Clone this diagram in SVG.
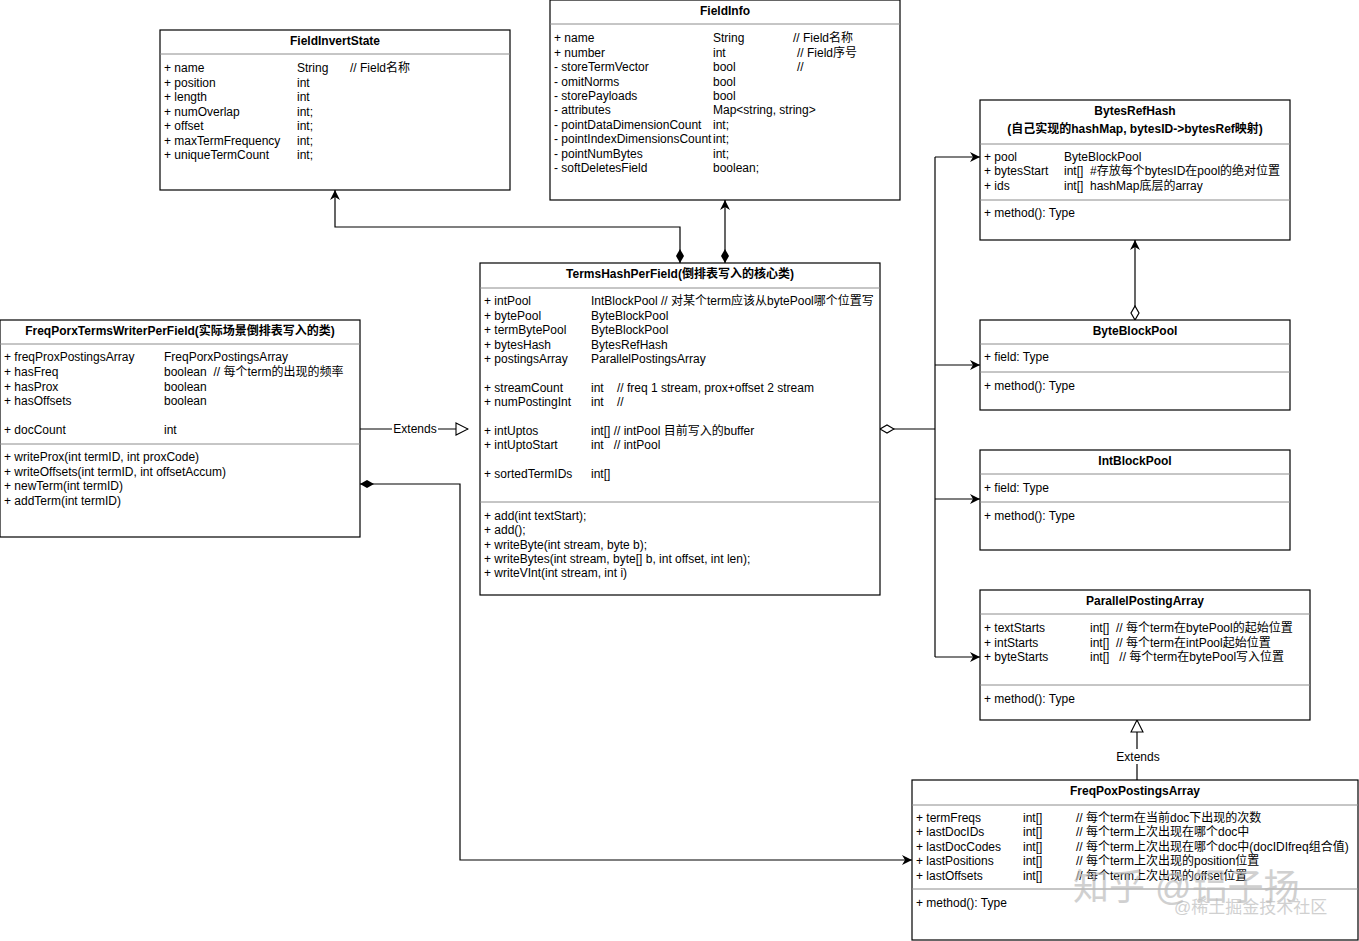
<svg xmlns="http://www.w3.org/2000/svg" width="1359" height="941" viewBox="0 0 1359 941">
<style>
text{font-family:"Liberation Sans","Noto Sans CJK SC",Arial,sans-serif;font-size:12px;fill:#000;white-space:pre}
.t{font-weight:bold;text-anchor:middle}
.box{fill:#fff;stroke:#000;stroke-width:1.2}
.sep{stroke:#8c8c8c;stroke-width:1}
.c{fill:none;stroke:#000;stroke-width:1.2}
.wm{fill:#bdbdbd;opacity:0.7}
</style>
<defs>
<marker id="arr" viewBox="0 0 10 10" refX="10" refY="5" markerWidth="10" markerHeight="10" markerUnits="userSpaceOnUse" orient="auto">
<path d="M0,0 L10,5 L0,10 L3,5 Z" fill="#000"/>
</marker>
<marker id="dia" viewBox="0 0 14 8" refX="0" refY="4" markerWidth="14" markerHeight="8" markerUnits="userSpaceOnUse" orient="auto">
<path d="M0,4 L7,0 L14,4 L7,8 Z" fill="#000"/>
</marker>
<marker id="odia" viewBox="-1 -1 16 10" refX="0" refY="4" markerWidth="16" markerHeight="10" markerUnits="userSpaceOnUse" orient="auto">
<path d="M0,4 L7,0 L14,4 L7,8 Z" fill="#fff" stroke="#000" stroke-width="1.2"/>
</marker>
<marker id="tri" viewBox="-1 -1 14 14" refX="12" refY="6" markerWidth="14" markerHeight="14" markerUnits="userSpaceOnUse" orient="auto">
<path d="M0,0 L12,6 L0,12 Z" fill="#fff" stroke="#000" stroke-width="1.1"/>
</marker>
</defs>
<rect width="1359" height="941" fill="#fff"/>

<g id="connectors">
<path class="c" d="M360,429 H468" marker-end="url(#tri)"/>
<rect x="392" y="421" width="46" height="15" fill="#fff"/>
<text x="415" y="433" text-anchor="middle">Extends</text>
<path class="c" d="M360,484 H460 V860 H912" marker-start="url(#dia)" marker-end="url(#arr)"/>
<path class="c" d="M680,263 V227 H335 V190" marker-start="url(#dia)" marker-end="url(#arr)"/>
<path class="c" d="M725,263 V200" marker-start="url(#dia)" marker-end="url(#arr)"/>
<path class="c" d="M880,429 H935" marker-start="url(#odia)"/>
<path class="c" d="M935,157 V657"/>
<path class="c" d="M935,157 H980" marker-end="url(#arr)"/>
<path class="c" d="M935,365 H980" marker-end="url(#arr)"/>
<path class="c" d="M935,499 H980" marker-end="url(#arr)"/>
<path class="c" d="M935,657 H980" marker-end="url(#arr)"/>
<path class="c" d="M1135,320 V240" marker-start="url(#odia)" marker-end="url(#arr)"/>
<path class="c" d="M1137,780 V720" marker-end="url(#tri)"/>
<rect x="1114" y="749" width="46" height="15" fill="#fff"/>
<text x="1138" y="761" text-anchor="middle">Extends</text>
</g>

<g id="FieldInvertState">
<rect class="box" x="160" y="30" width="350" height="160"/>
<line class="sep" x1="160" y1="54" x2="510" y2="54"/>
<text class="t" x="335" y="45">FieldInvertState</text>
<text x="164" y="72">+ name</text><text x="297" y="72">String</text><text x="350" y="72">// Field名称</text>
<text x="164" y="87">+ position</text><text x="297" y="87">int</text>
<text x="164" y="101">+ length</text><text x="297" y="101">int</text>
<text x="164" y="116">+ numOverlap</text><text x="297" y="116">int;</text>
<text x="164" y="130">+ offset</text><text x="297" y="130">int;</text>
<text x="164" y="145">+ maxTermFrequency</text><text x="297" y="145">int;</text>
<text x="164" y="159">+ uniqueTermCount</text><text x="297" y="159">int;</text>
</g>

<g id="FieldInfo">
<rect class="box" x="550" y="0" width="350" height="200"/>
<line class="sep" x1="550" y1="24" x2="900" y2="24"/>
<text class="t" x="725" y="15">FieldInfo</text>
<text x="554" y="42">+ name</text><text x="713" y="42">String</text><text x="793" y="42">// Field名称</text>
<text x="554" y="57">+ number</text><text x="713" y="57">int</text><text x="797" y="57">// Field序号</text>
<text x="554" y="71">- storeTermVector</text><text x="713" y="71">bool</text><text x="797" y="71">//</text>
<text x="554" y="86">- omitNorms</text><text x="713" y="86">bool</text>
<text x="554" y="100">- storePayloads</text><text x="713" y="100">bool</text>
<text x="554" y="114">- attributes</text><text x="713" y="114">Map&lt;string, string&gt;</text>
<text x="554" y="129">- pointDataDimensionCount</text><text x="713" y="129">int;</text>
<text x="554" y="143">- pointIndexDimensionsCount</text><text x="713" y="143">int;</text>
<text x="554" y="158">- pointNumBytes</text><text x="713" y="158">int;</text>
<text x="554" y="172">- softDeletesField</text><text x="713" y="172">boolean;</text>
</g>

<g id="BytesRefHash">
<rect class="box" x="980" y="100" width="310" height="140"/>
<line class="sep" x1="980" y1="144" x2="1290" y2="144"/>
<line class="sep" x1="980" y1="200" x2="1290" y2="200"/>
<text class="t" x="1135" y="115">BytesRefHash</text>
<text class="t" x="1135" y="133">(自己实现的hashMap, bytesID-&gt;bytesRef映射)</text>
<text x="984" y="161">+ pool</text><text x="1064" y="161">ByteBlockPool</text>
<text x="984" y="175">+ bytesStart</text><text x="1064" y="175">int[]  #存放每个bytesID在pool的绝对位置</text>
<text x="984" y="190">+ ids</text><text x="1064" y="190">int[]  hashMap底层的array</text>
<text x="984" y="217">+ method(): Type</text>
</g>

<g id="ByteBlockPool">
<rect class="box" x="980" y="320" width="310" height="90"/>
<line class="sep" x1="980" y1="344" x2="1290" y2="344"/>
<line class="sep" x1="980" y1="372" x2="1290" y2="372"/>
<text class="t" x="1135" y="335">ByteBlockPool</text>
<text x="984" y="361">+ field: Type</text>
<text x="984" y="390">+ method(): Type</text>
</g>

<g id="IntBlockPool">
<rect class="box" x="980" y="450" width="310" height="100"/>
<line class="sep" x1="980" y1="474" x2="1290" y2="474"/>
<line class="sep" x1="980" y1="502" x2="1290" y2="502"/>
<text class="t" x="1135" y="465">IntBlockPool</text>
<text x="984" y="492">+ field: Type</text>
<text x="984" y="520">+ method(): Type</text>
</g>

<g id="ParallelPostingArray">
<rect class="box" x="980" y="590" width="330" height="130"/>
<line class="sep" x1="980" y1="614" x2="1310" y2="614"/>
<line class="sep" x1="980" y1="685" x2="1310" y2="685"/>
<text class="t" x="1145" y="605">ParallelPostingArray</text>
<text x="984" y="632">+ textStarts</text><text x="1090" y="632">int[]  // 每个term在bytePool的起始位置</text>
<text x="984" y="647">+ intStarts</text><text x="1090" y="647">int[]  // 每个term在intPool起始位置</text>
<text x="984" y="661">+ byteStarts</text><text x="1090" y="661">int[]   // 每个term在bytePool写入位置</text>
<text x="984" y="703">+ method(): Type</text>
</g>

<g id="FreqPoxPostingsArray">
<rect class="box" x="912" y="780" width="446" height="160"/>
<line class="sep" x1="912" y1="805" x2="1358" y2="805"/>
<line class="sep" x1="912" y1="889" x2="1358" y2="889"/>
<text class="t" x="1135" y="795">FreqPoxPostingsArray</text>
<text x="916" y="822">+ termFreqs</text><text x="1023" y="822">int[]</text><text x="1076" y="822">// 每个term在当前doc下出现的次数</text>
<text x="916" y="836">+ lastDocIDs</text><text x="1023" y="836">int[]</text><text x="1076" y="836">// 每个term上次出现在哪个doc中</text>
<text x="916" y="851">+ lastDocCodes</text><text x="1023" y="851">int[]</text><text x="1076" y="851">// 每个term上次出现在哪个doc中(docIDIfreq组合值)</text>
<text x="916" y="865">+ lastPositions</text><text x="1023" y="865">int[]</text><text x="1076" y="865">// 每个term上次出现的position位置</text>
<text x="916" y="880">+ lastOffsets</text><text x="1023" y="880">int[]</text><text x="1076" y="880">// 每个term上次出现的offset位置</text>
<text x="916" y="907">+ method(): Type</text>
</g>

<g id="TermsHashPerField">
<rect class="box" x="480" y="263" width="400" height="332"/>
<line class="sep" x1="480" y1="288" x2="880" y2="288"/>
<line class="sep" x1="480" y1="502" x2="880" y2="502"/>
<text class="t" x="680" y="278">TermsHashPerField(倒排表写入的核心类)</text>
<text x="484" y="305">+ intPool</text><text x="591" y="305">IntBlockPool // 对某个term应该从bytePool哪个位置写</text>
<text x="484" y="320">+ bytePool</text><text x="591" y="320">ByteBlockPool</text>
<text x="484" y="334">+ termBytePool</text><text x="591" y="334">ByteBlockPool</text>
<text x="484" y="349">+ bytesHash</text><text x="591" y="349">BytesRefHash</text>
<text x="484" y="363">+ postingsArray</text><text x="591" y="363">ParallelPostingsArray</text>
<text x="484" y="392">+ streamCount</text><text x="591" y="392">int    // freq 1 stream, prox+offset 2 stream</text>
<text x="484" y="406">+ numPostingInt</text><text x="591" y="406">int    //</text>
<text x="484" y="435">+ intUptos</text><text x="591" y="435">int[] // intPool 目前写入的buffer</text>
<text x="484" y="449">+ intUptoStart</text><text x="591" y="449">int   // intPool</text>
<text x="484" y="478">+ sortedTermIDs</text><text x="591" y="478">int[]</text>
<text x="484" y="520">+ add(int textStart);</text>
<text x="484" y="534">+ add();</text>
<text x="484" y="549">+ writeByte(int stream, byte b);</text>
<text x="484" y="563">+ writeBytes(int stream, byte[] b, int offset, int len);</text>
<text x="484" y="577">+ writeVInt(int stream, int i)</text>
</g>

<g id="FreqPorxTermsWriterPerField">
<rect class="box" x="0" y="320" width="360" height="217"/>
<line class="sep" x1="0" y1="344" x2="360" y2="344"/>
<line class="sep" x1="0" y1="444" x2="360" y2="444"/>
<text class="t" x="180" y="335">FreqPorxTermsWriterPerField(实际场景倒排表写入的类)</text>
<text x="4" y="361">+ freqProxPostingsArray</text><text x="164" y="361">FreqPorxPostingsArray</text>
<text x="4" y="376">+ hasFreq</text><text x="164" y="376">boolean  // 每个term的出现的频率</text>
<text x="4" y="391">+ hasProx</text><text x="164" y="391">boolean</text>
<text x="4" y="405">+ hasOffsets</text><text x="164" y="405">boolean</text>
<text x="4" y="434">+ docCount</text><text x="164" y="434">int</text>
<text x="4" y="461">+ writeProx(int termID, int proxCode)</text>
<text x="4" y="476">+ writeOffsets(int termID, int offsetAccum)</text>
<text x="4" y="490">+ newTerm(int termID)</text>
<text x="4" y="505">+ addTerm(int termID)</text>
</g>

<g id="watermark">
<text class="wm" x="1073" y="900" style="font-size:36px">知乎 @铝子扬</text>
<text class="wm" x="1174" y="913" style="font-size:17px">@稀土掘金技术社区</text>
</g>
</svg>
